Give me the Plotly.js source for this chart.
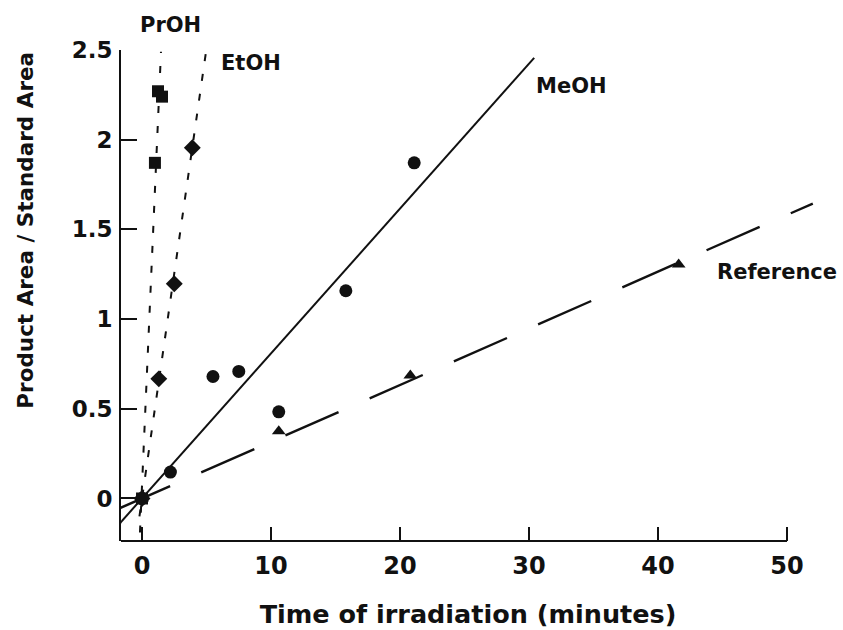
<!DOCTYPE html>
<html>
<head>
<meta charset="utf-8">
<script src="https://cdn.plot.ly/plotly-3.0.1.min.js"></script>
<style>
  html, body { margin: 0; padding: 0; background: #fff; }
  #chart { width: 843px; height: 630px; }
</style>
</head>
<body>
<div id="chart"></div>
<script>
// ---- data ----
const meohX = [0, 2.2, 5.5, 7.5, 10.6, 15.8, 21.1];
const meohY = [0, 0.147, 0.68, 0.708, 0.483, 1.158, 1.871];
const refX  = [0, 10.6, 20.8, 41.6];
const refY  = [0, 0.375, 0.686, 1.304];
const etohX = [0, 1.3, 2.5, 3.9];
const etohY = [0, 0.667, 1.197, 1.955];
const prohX = [0, 1.0, 1.24, 1.55];
const prohY = [0, 1.871, 2.27, 2.24];

// fitted lines (end points)
const meohFitX = [-1.94, 30.4];
const meohFitY = [-0.156, 2.456];
const refFitX  = [-1.94, 52.0];
const refFitY  = [-0.061, 1.644];
const etohFitX = [-0.2, 4.96];
const etohFitY = [-0.1, 2.49];
const prohFitX = [-0.16, 1.47];
const prohFitY = [-0.19, 2.49];

const xTicks = [0, 10, 20, 30, 40, 50];
const yTicks = [0, 0.5, 1, 1.5, 2, 2.5];
const yTickText = ['0', '0.5', '1', '1.5', '2', '2.5'];

const seriesLabels = ['PrOH', 'EtOH', 'MeOH', 'Reference'];
const xTitle = 'Time of irradiation (minutes)';
const yTitle = 'Product Area / Standard Area';

const xRange = [-1.63, 52.17];
const yRange = [-0.237, 2.5];

const FONT = 'DejaVu Sans, Liberation Sans, Arial, sans-serif';
const INK = '#111';

const traces = [
  {x: meohFitX, y: meohFitY, mode: 'lines', line: {color: INK, width: 2}, name: 'MeOH fit'},
  {x: refFitX, y: refFitY, mode: 'lines', line: {color: INK, width: 2.4, dash: '58px,34px'}, name: 'Reference fit'},
  {x: etohFitX, y: etohFitY, mode: 'lines', line: {color: INK, width: 2, dash: '7px,13px'}, name: 'EtOH fit'},
  {x: prohFitX, y: prohFitY, mode: 'lines', line: {color: INK, width: 2, dash: '7px,13px'}, name: 'PrOH fit'},
  {x: meohX, y: meohY, mode: 'markers', marker: {symbol: 'circle', size: 13, color: INK}, name: 'MeOH'},
  {x: refX, y: refY, mode: 'markers', marker: {symbol: 'triangle-up', size: 12, color: INK}, name: 'Reference'},
  {x: etohX, y: etohY, mode: 'markers', marker: {symbol: 'diamond', size: 13, color: INK}, name: 'EtOH'},
  {x: prohX, y: prohY, mode: 'markers', marker: {symbol: 'square', size: 12, color: INK}, name: 'PrOH'}
];

const labelFont = {family: FONT, size: 21, color: INK, weight: 'bold'};

const layout = {
  width: 843, height: 630,
  margin: {l: 121, r: 28, t: 50, b: 89},
  paper_bgcolor: '#fff', plot_bgcolor: '#fff',
  showlegend: false,
  font: {family: FONT, color: INK},
  xaxis: {
    range: xRange, tickvals: xTicks, ticktext: xTicks.map(String),
    ticks: 'inside', ticklen: 14, tickwidth: 2, tickcolor: INK,
    showgrid: false, zeroline: false, showline: false,
    tickfont: {family: FONT, size: 24, color: INK, weight: 'bold'},
    ticklabelstandoff: 8,
    title: {text: xTitle, font: {family: FONT, size: 25.5, color: INK, weight: 'bold'}, standoff: 26}
  },
  yaxis: {
    range: yRange, tickvals: yTicks, ticktext: yTickText,
    ticks: 'inside', ticklen: 16, tickwidth: 2, tickcolor: INK,
    showgrid: false, zeroline: false, showline: true, linecolor: INK, linewidth: 2,
    tickfont: {family: FONT, size: 23, color: INK, weight: 'bold'},
    ticklabelstandoff: 2
  },
  shapes: [
    {type: 'line', xref: 'x', yref: 'paper', x0: xRange[0], x1: xTicks[xTicks.length - 1], y0: 0, y1: 0,
     line: {color: INK, width: 2}}
  ],
  annotations: [
    {text: seriesLabels[0], x: 0.072, y: 1.051, xref: 'paper', yref: 'paper', xanchor: 'center', yanchor: 'middle',
     showarrow: false, font: labelFont},
    {text: seriesLabels[1], x: 8.45, y: 2.43, xref: 'x', yref: 'y', xanchor: 'center', yanchor: 'middle',
     showarrow: false, font: labelFont},
    {text: seriesLabels[2], x: 33.26, y: 2.30, xref: 'x', yref: 'y', xanchor: 'center', yanchor: 'middle',
     showarrow: false, font: labelFont},
    {text: seriesLabels[3], x: 49.2, y: 1.265, xref: 'x', yref: 'y', xanchor: 'center', yanchor: 'middle',
     showarrow: false, font: labelFont},
    {text: yTitle, xref: 'paper', yref: 'paper', x: -0.1376, y: 0.633, xanchor: 'center', yanchor: 'middle',
     textangle: -90, showarrow: false, font: {family: FONT, size: 21.5, color: INK, weight: 'bold'}}
  ]
};

Plotly.newPlot('chart', traces, layout, {staticPlot: true, displayModeBar: false});
</script>
</body>
</html>
